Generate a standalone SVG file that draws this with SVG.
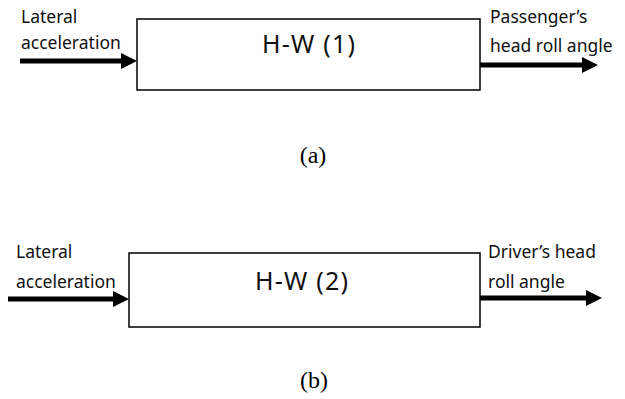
<svg xmlns="http://www.w3.org/2000/svg" width="625" height="399" viewBox="0 0 625 399">
<style>
.box{fill:#fff;stroke:#000;stroke-width:1.5}
.lbl{font-family:"Noto Sans","Open Sans",sans-serif;font-size:17.5px;fill:#111}
.ttl{font-family:"Noto Sans","Open Sans",sans-serif;font-size:25px;fill:#111}
.cap{font-family:"Liberation Serif","Times New Roman",serif;font-size:24px;fill:#000;text-anchor:middle}
.arr{stroke:#000;stroke-width:5;fill:none;marker-end:url(#ah)}
</style>
<defs>
<marker id="ah" markerUnits="userSpaceOnUse" markerWidth="16" markerHeight="16" refX="2" refY="8" orient="auto">
<path d="M0,0 L16,8 L0,16 Z" fill="#000"/>
</marker>
</defs>
<rect width="625" height="399" fill="#fff"/>
<g id="connectors">
<line class="arr" x1="20" y1="61" x2="123" y2="61"/>
<line class="arr" x1="480" y1="65" x2="584" y2="65"/>
<line class="arr" x1="8" y1="299" x2="115" y2="299"/>
<line class="arr" x1="480" y1="298" x2="588" y2="298"/>
</g>
<g id="node-hw1">
<rect class="box" x="137" y="19" width="343" height="71"/>
<text class="ttl" x="262" y="53" textLength="93" lengthAdjust="spacing">H-W (1)</text>
</g>
<g id="node-hw2">
<rect class="box" x="129" y="253" width="351" height="74"/>
<text class="ttl" x="255" y="290" textLength="93" lengthAdjust="spacing">H-W (2)</text>
</g>
<g id="labels">
<text class="lbl" x="21" y="23">Lateral</text>
<text class="lbl" x="21" y="49">acceleration</text>
<text class="lbl" x="490" y="23">Passenger’s</text>
<text class="lbl" x="490" y="52">head roll angle</text>
<text class="lbl" x="16" y="258">Lateral</text>
<text class="lbl" x="16" y="288">acceleration</text>
<text class="lbl" x="488" y="258">Driver’s head</text>
<text class="lbl" x="488" y="288">roll angle</text>
<text class="cap" x="313" y="163">(a)</text>
<text class="cap" x="314" y="388">(b)</text>
</g>
</svg>
